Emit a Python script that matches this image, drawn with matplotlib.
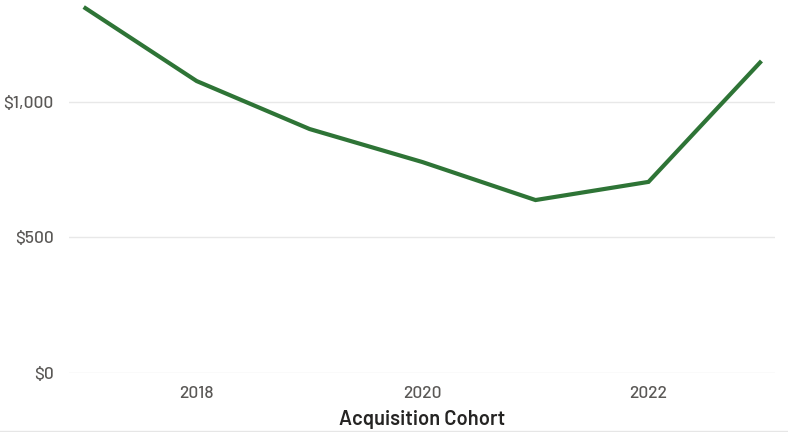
import matplotlib
matplotlib.use("Agg")
import matplotlib.pyplot as plt
from matplotlib.ticker import FuncFormatter, FixedLocator

# Average value per acquisition cohort
cohorts = [2017, 2018, 2019, 2020, 2021, 2022, 2023]
values = [1350, 1077, 900, 778, 638, 705, 1151]

y_ticks = [0, 500, 1000]
x_ticks = [2018, 2020, 2022]

plt.rcParams["font.family"] = ["Barlow", "DejaVu Sans"]

fig = plt.figure(figsize=(7.88, 4.32), dpi=100)
ax = fig.add_axes([69 / 788, 59 / 432, 706 / 788, 373 / 432])

ax.plot(cohorts, values, color="#2E7436", linewidth=3.0, solid_joinstyle="miter",
        solid_capstyle="butt", zorder=3)

ax.set_xlim(2016.87, 2023.12)
ax.set_ylim(0, 1376)

ax.yaxis.set_major_locator(FixedLocator(y_ticks))
ax.xaxis.set_major_locator(FixedLocator(x_ticks))
ax.yaxis.set_major_formatter(FuncFormatter(lambda v, p: f"${v:,.0f}"))

ax.grid(axis="y", color="#E8E8E8", linewidth=1.0, zorder=0)
ax.grid(axis="x", visible=False)
for s in ax.spines.values():
    s.set_visible(False)

ax.tick_params(axis="both", length=0, labelsize=12.5, labelcolor="#5A5856")
ax.tick_params(axis="y", pad=11)
ax.tick_params(axis="x", pad=9)
for lbl in ax.get_xticklabels() + ax.get_yticklabels():
    lbl.set_fontweight("medium")

ax.set_xlabel("Acquisition Cohort", fontsize=14.5, color="#252423",
              fontweight="semibold", labelpad=7)

# thin rule along the bottom edge
fig.add_artist(plt.Line2D([0, 1], [1.5 / 432, 1.5 / 432], color="#E6E6E6",
                          linewidth=1.0, transform=fig.transFigure))

fig.savefig("out.png", dpi=100, facecolor="white")
